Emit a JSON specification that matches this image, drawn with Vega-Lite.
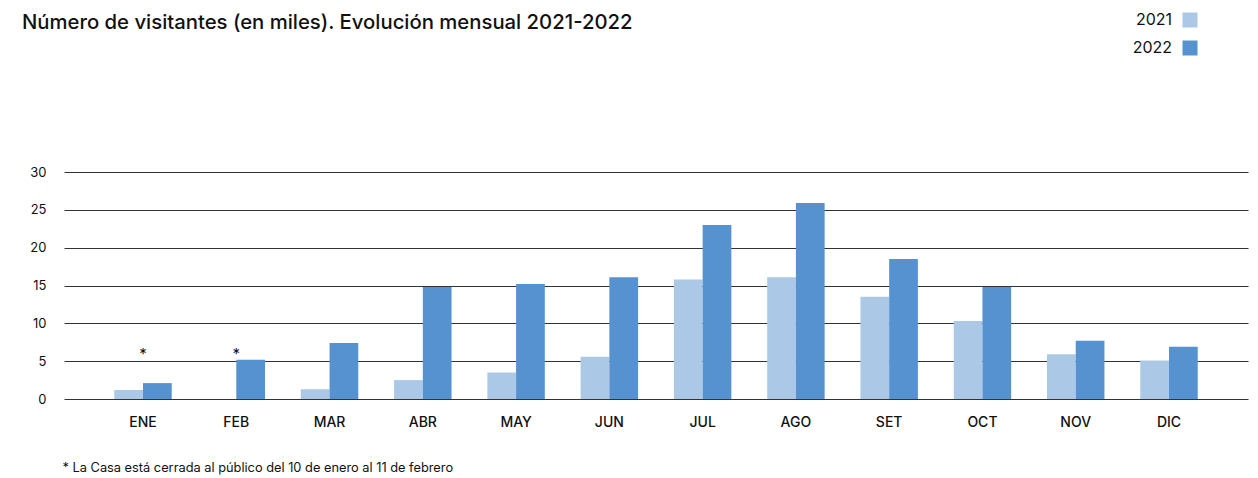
{
  "$schema": "https://vega.github.io/schema/vega-lite/v6.json",
  "width": 1184,
  "height": 227,
  "autosize": {"type": "none"},
  "padding": {"left": 64, "top": 172, "right": 10, "bottom": 79},
  "background": "white",
  "config": {
    "view": {"stroke": null},
    "font": "Inter",
    "axis": {"labelFont": "Inter", "titleFont": "Inter"}
  },
  "title": {
    "text": "Número de visitantes (en miles). Evolución mensual 2021-2022",
    "anchor": "start",
    "frame": "group",
    "orient": "top",
    "offset": -21,
    "dx": -42,
    "fontSize": 20.3,
    "fontWeight": 500,
    "color": "#111111",
    "font": "Inter"
  },
  "layer": [
    {
      "data": {
        "values": [
          {"mes": "ENE", "anio": "2021", "valor": 1.2},
          {"mes": "ENE", "anio": "2022", "valor": 2.1},
          {"mes": "FEB", "anio": "2022", "valor": 5.2},
          {"mes": "MAR", "anio": "2021", "valor": 1.3},
          {"mes": "MAR", "anio": "2022", "valor": 7.4},
          {"mes": "ABR", "anio": "2021", "valor": 2.5},
          {"mes": "ABR", "anio": "2022", "valor": 14.8},
          {"mes": "MAY", "anio": "2021", "valor": 3.5},
          {"mes": "MAY", "anio": "2022", "valor": 15.2},
          {"mes": "JUN", "anio": "2021", "valor": 5.6},
          {"mes": "JUN", "anio": "2022", "valor": 16.1},
          {"mes": "JUL", "anio": "2021", "valor": 15.8},
          {"mes": "JUL", "anio": "2022", "valor": 23.0},
          {"mes": "AGO", "anio": "2021", "valor": 16.1},
          {"mes": "AGO", "anio": "2022", "valor": 25.9},
          {"mes": "SET", "anio": "2021", "valor": 13.5},
          {"mes": "SET", "anio": "2022", "valor": 18.5},
          {"mes": "OCT", "anio": "2021", "valor": 10.3},
          {"mes": "OCT", "anio": "2022", "valor": 14.8},
          {"mes": "NOV", "anio": "2021", "valor": 5.9},
          {"mes": "NOV", "anio": "2022", "valor": 7.7},
          {"mes": "DIC", "anio": "2021", "valor": 5.1},
          {"mes": "DIC", "anio": "2022", "valor": 6.9}
        ]
      },
      "mark": {"type": "bar"},
      "encoding": {
        "x": {
          "field": "mes",
          "type": "nominal",
          "sort": ["ENE","FEB","MAR","ABR","MAY","JUN","JUL","AGO","SET","OCT","NOV","DIC"],
          "scale": {"paddingInner": 0.384, "paddingOuter": 0.539},
          "axis": {
            "title": "* La Casa está cerrada al público del 10 de enero al 11 de febrero",
            "titleAnchor": "start",
            "titleAlign": "left",
            "titleX": -2,
            "titleY": 68,
            "titleBaseline": "middle",
            "titleFontSize": 12.8,
            "titleFontWeight": "normal",
            "titleColor": "#111111",
            "labelAngle": 0,
            "labelFontSize": 14,
            "labelFontWeight": 500,
            "labelColor": "#111111",
            "labelPadding": 16,
            "ticks": false,
            "domain": false
          }
        },
        "xOffset": {
          "field": "anio",
          "type": "nominal",
          "scale": {"paddingInner": 0, "paddingOuter": 0}
        },
        "y": {
          "field": "valor",
          "type": "quantitative",
          "scale": {"domain": [0, 30]},
          "axis": {
            "title": null,
            "values": [0, 5, 10, 15, 20, 25, 30],
            "labelFontSize": 13,
            "labelColor": "#111111",
            "labelPadding": 18,
            "ticks": false,
            "domain": false,
            "grid": true,
            "gridColor": "#333333",
            "gridWidth": 1
          }
        },
        "color": {
          "field": "anio",
          "type": "nominal",
          "scale": {"domain": ["2021", "2022"], "range": ["#abc8e7", "#5592cf"]},
          "legend": {
            "title": null,
            "orient": "none",
            "legendX": 1118,
            "legendY": -160,
            "direction": "vertical",
            "symbolType": "square",
            "symbolSize": 225,
            "symbolStrokeWidth": 0,
            "symbolOpacity": 1,
            "labelAlign": "right",
            "labelOffset": -26,
            "labelFontSize": 16,
            "labelColor": "#111111",
            "rowPadding": 12
          }
        }
      }
    },
    {
      "data": {
        "values": [
          {"mes": "ENE", "nota": "*", "pos": 6.4},
          {"mes": "FEB", "nota": "*", "pos": 6.4}
        ]
      },
      "mark": {"type": "text", "fontSize": 15, "color": "#111111", "baseline": "middle", "dy": 3},
      "encoding": {
        "x": {"field": "mes", "type": "nominal", "sort": ["ENE","FEB","MAR","ABR","MAY","JUN","JUL","AGO","SET","OCT","NOV","DIC"]},
        "y": {
          "field": "pos",
          "type": "quantitative",
          "axis": {
            "title": null,
            "values": [0, 5, 10, 15, 20, 25, 30],
            "labelFontSize": 13,
            "labelColor": "#111111",
            "labelPadding": 18,
            "ticks": false,
            "domain": false,
            "grid": true,
            "gridColor": "#333333",
            "gridWidth": 1
          }
        },
        "text": {"field": "nota"}
      }
    }
  ]
}
